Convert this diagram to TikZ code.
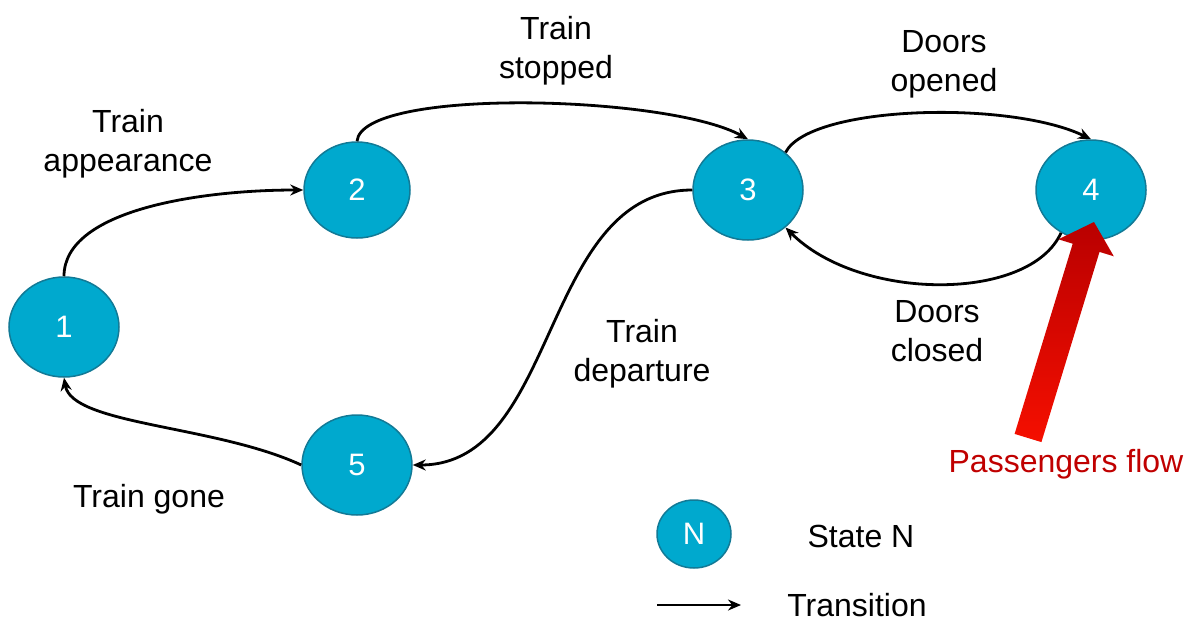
\documentclass[tikz,border=0pt]{standalone}
\usepackage{fontspec}
\setmainfont{Liberation Sans}
\usetikzlibrary{shapes.geometric,arrows.meta}
\definecolor{statefill}{RGB}{0,169,206}
\definecolor{stateedge}{RGB}{18,122,150}
\definecolor{flowdark}{RGB}{185,0,0}
\definecolor{flowbright}{RGB}{245,15,0}
\definecolor{flowtext}{RGB}{192,0,0}
\tikzset{
  statenode/.style={ellipse,draw=stateedge,line width=1.5pt,fill=statefill,
    minimum width=110pt,minimum height=100pt,inner sep=0pt,text=white,
    font=\fontsize{31}{33}\selectfont},
  trans/.style={line width=2.8pt,-{Stealth[length=13pt,width=11pt]}},
  lbl/.style={align=center,font=\fontsize{32}{39}\selectfont,inner sep=0pt}
}
\begin{document}
\begin{tikzpicture}[x=1pt,y=-1pt]
\useasboundingbox (0,0) rectangle (1196,621);
% states
\node[statenode] (n1) at (64,327) {1};
\node[statenode,minimum width=106pt,minimum height=96pt] (n2) at (357,190) {2};
\node[statenode] (n3) at (748,190) {3};
\node[statenode] (n4) at (1091,190) {4};
\node[statenode] (n5) at (357,465) {5};
% transitions
\draw[trans] (n1.north) .. controls (64,210) and (200,190) .. (n2.west);
\draw[trans] (n2.north) .. controls (362,87) and (668,95) .. (n3.north);
\draw[trans] (n3.45) .. controls (810,105) and (1010,100) .. (n4.north);
\draw[trans] (n4.235) .. controls (1030,302) and (860,302) .. (n3.-45);
\draw[trans] (n3.west) .. controls (540,190) and (560,465) .. (n5.east);
\draw[trans] (n5.west) .. controls (215,425) and (72,425) .. (n1.south);
% labels
\node[lbl] (l12) at (128,144) {Train\\appearance};
\node[lbl] (l23) at (556,51) {Train\\stopped};
\node[lbl] (l34) at (944,64) {Doors\\opened};
\node[lbl] (l43) at (937,331) {Doors\\closed};
\node[lbl] (l35) at (642,354) {Train\\departure};
\node[lbl] (l51) at (149,499) {Train gone};
% passengers flow arrow
\shade[top color=flowdark,bottom color=flowbright]
  (1014.6,433.9) -- (1072.7,243.7) -- (1058.4,239.3) -- (1094,222)
  -- (1113.8,256.3) -- (1099.5,251.9) -- (1041.4,442.1) -- cycle;
\node[lbl,text=flowtext] (pf) at (1066,464) {Passengers flow};
% legend
\node[statenode,minimum width=74pt,minimum height=68pt] (nl) at (694,534) {N};
\node[lbl] (ls) at (861,536) {State N};
\coordinate (ta) at (657,605);
\coordinate (tb) at (741,605);
\draw[trans] (ta) -- (tb);
\node[lbl] (lt) at (857,605) {Transition};
\end{tikzpicture}
\end{document}
